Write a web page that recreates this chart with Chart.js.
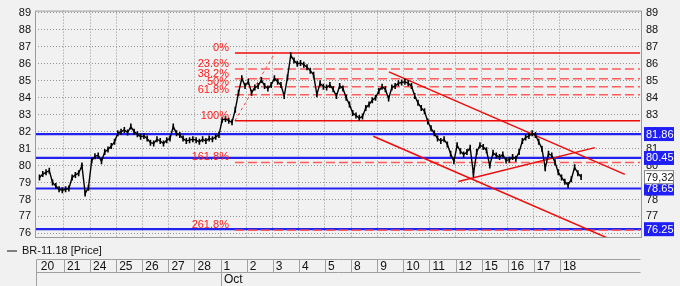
<!DOCTYPE html>
<html>
<head>
<meta charset="utf-8">
<script src="https://cdn.jsdelivr.net/npm/chart.js@4.4.1/dist/chart.umd.min.js"></script>
<style>
  html, body { margin: 0; padding: 0; background: #f1f1f1; }
  #wrap { width: 680px; height: 286px; }
</style>
</head>
<body>
<div id="wrap"><canvas id="c" width="680" height="286"></canvas></div>
<script>
(function () {
  'use strict';

  // trading days shown on the axis (Sep 20 .. Oct 18)
  var dayLabels = ['20', '21', '24', '25', '26', '27', '28', '1', '2', '3', '4', '5',
    '8', '9', '10', '11', '12', '15', '16', '17', '18'];
  var monthLabel = 'Oct';
  var monthStartDay = 7;
  var barsPerDay = 8;

  // intraday closes, 8 per day (last day incomplete)
  var prices = [
    79.3, 79.5, 79.6, 79.7, 79.0, 78.8, 78.6, 78.55,
    78.6, 78.65, 79.3, 79.45, 79.55, 80.0, 78.35, 78.7,
    80.3, 80.55, 80.6, 80.25, 80.8, 80.95, 81.15, 81.4,
    81.9, 82.0, 82.1, 81.95, 82.3, 82.0, 81.85, 81.7,
    81.75, 81.6, 81.35, 81.3, 81.55, 81.45, 81.3, 81.5,
    81.6, 82.3, 81.9, 81.8, 81.6, 81.45, 81.5, 81.55,
    81.5, 81.4, 81.55, 81.45, 81.6, 81.55, 81.7, 81.8,
    82.7, 82.75, 82.65, 82.55, 83.3, 84.3, 85.15, 84.7,
    84.95, 84.3, 84.6, 84.7, 85.05, 84.7, 84.55, 84.75,
    85.15, 84.95, 84.75, 84.1, 85.2, 86.5, 86.2, 86.0,
    86.05, 85.95, 85.8, 85.6, 85.35, 84.2, 84.85, 84.65,
    84.6, 84.75, 84.5, 84.1, 84.7, 84.55, 84.0, 83.6,
    83.1, 82.95, 82.8, 82.9, 83.4, 83.6, 83.85, 84.0,
    84.4, 84.65, 84.5, 83.95, 84.6, 84.7, 84.85, 84.9,
    84.95, 84.85, 84.7, 84.1, 83.7, 83.4, 83.2, 82.6,
    82.2, 81.9, 81.6, 81.45, 81.55, 81.25, 80.7, 80.25,
    81.2, 80.85, 80.65, 80.8, 81.05, 79.5, 80.8, 81.2,
    81.1, 80.9, 80.0, 80.75, 80.6, 80.5, 80.65, 80.3,
    80.35, 80.5, 80.4, 80.8, 81.45, 81.65, 81.75, 81.9,
    81.8, 81.4, 81.0, 79.85, 80.7, 80.6, 80.2, 79.6,
    79.3, 79.05, 78.85, 79.2, 79.9, 79.55, 79.32
  ];
  var lastPrice = 79.32;
  var seriesName = 'BR-11.18 [Price]';

  var yTicks = [76, 77, 78, 79, 80, 81, 82, 83, 84, 85, 86, 87, 88, 89];

  // fibonacci retracement drawn between the swing low and high
  var fibHigh = 86.64;
  var fibLow = 82.65;
  var fibRatios = [0, 0.236, 0.382, 0.5, 0.618, 1, 1.618, 2.618];
  var fibNames = ['0%', '23.6%', '38.2%', '50%', '61.8%', '100%', '161.8%', '261.8%'];
  var fibStartDay = 7.55;
  var fibEndDay = 23.07;
  var fibDiagEndDay = 9.08;

  // horizontal support / resistance levels
  var levels = [81.86, 80.45, 78.65, 76.25];

  // hand drawn trend lines, [day, price] endpoints
  var trendLines = [
    [[13.45, 85.53], [22.49, 79.48]],
    [[12.85, 81.73], [21.84, 75.72]],
    [[16.11, 79.06], [21.34, 81.06]]
  ];

  var xMin = -0.11, xMax = 23.145;
  var yMin = 75.73, yMax = 89.14;

  function fibLevel(r) { return fibHigh - r * (fibHigh - fibLow); }

  var priceData = prices.map(function (p, i) {
    var d = Math.floor(i / barsPerDay);
    var k = i % barsPerDay;
    return { x: d + (k + 0.5) / barsPerDay, y: p };
  });

  var datasets = [];
  datasets.push({
    data: priceData, borderColor: '#000', borderWidth: 1.4,
    pointStyle: 'line', pointRotation: 90, pointRadius: 3,
    pointBorderColor: '#000', pointBorderWidth: 1.6, order: 0
  });

  levels.forEach(function (lv) {
    datasets.push({
      data: [{ x: xMin, y: lv }, { x: xMax, y: lv }],
      borderColor: '#2222ee', borderWidth: 2.2, pointRadius: 0, order: 3
    });
  });

  fibRatios.forEach(function (r) {
    var solid = (r === 0 || r === 1);
    var lv = fibLevel(r);
    datasets.push({
      data: [{ x: fibStartDay, y: lv }, { x: fibEndDay, y: lv }],
      borderColor: solid ? '#f00a0a' : '#ff5c5c',
      borderWidth: 1.5, borderDash: solid ? [] : [9, 4],
      pointRadius: 0, order: 2
    });
  });
  datasets.push({
    data: [{ x: fibStartDay, y: fibLow }, { x: fibDiagEndDay, y: fibHigh }],
    borderColor: '#ff4444', borderWidth: 1, borderDash: [3, 3], pointRadius: 0, order: 2
  });

  trendLines.forEach(function (t) {
    datasets.push({
      data: [{ x: t[0][0], y: t[0][1] }, { x: t[1][0], y: t[1][1] }],
      borderColor: '#f00a0a', borderWidth: 1.5, pointRadius: 0, order: 1
    });
  });

  var FONT = '"Liberation Sans", Arial, sans-serif';

  function valueBox(ctx, px, py, text, bg, fg, border) {
    ctx.fillStyle = bg;
    ctx.fillRect(px, py - 7, 30, 14);
    if (border) {
      ctx.strokeStyle = border;
      ctx.lineWidth = 1;
      ctx.strokeRect(px + 0.5, py - 6.5, 29, 13);
    }
    ctx.fillStyle = fg;
    ctx.textAlign = 'left';
    ctx.textBaseline = 'middle';
    ctx.fillText(text, px + 2, py + 0.5);
  }

  var overlay = {
    id: 'overlay',
    afterDraw: function (chart) {
      var ctx = chart.ctx, a = chart.chartArea;
      var xs = chart.scales.x, ys = chart.scales.y;
      ctx.save();

      ctx.strokeStyle = '#9a9a9a';
      ctx.lineWidth = 1;
      ctx.strokeRect(a.left + 0.5, a.top + 0.5, a.right - a.left - 1, a.bottom - a.top - 1);

      // fib labels
      ctx.font = '11px ' + FONT;
      ctx.fillStyle = '#ff1a1a';
      ctx.textAlign = 'right';
      ctx.textBaseline = 'alphabetic';
      var lx = xs.getPixelForValue(fibStartDay) - 6;
      fibRatios.forEach(function (r, i) {
        ctx.fillText(fibNames[i], lx, ys.getPixelForValue(fibLevel(r)) - 2);
      });

      // right side value boxes
      var bx = a.right + 2;
      levels.forEach(function (lv) {
        valueBox(ctx, bx, ys.getPixelForValue(lv), lv.toFixed(2), '#1f1ff5', '#fff');
      });
      valueBox(ctx, bx, ys.getPixelForValue(lastPrice), lastPrice.toFixed(2).replace('.', ','), '#fff', '#111', '#888');

      // legend
      ctx.strokeStyle = '#808080';
      ctx.lineWidth = 2;
      ctx.beginPath();
      ctx.moveTo(7, 251);
      ctx.lineTo(17, 251);
      ctx.stroke();
      ctx.fillStyle = '#111';
      ctx.textAlign = 'left';
      ctx.textBaseline = 'middle';
      ctx.font = '11px ' + FONT;
      ctx.fillText(seriesName, 22, 251);

      // date strip frame
      var top = 259.5, mid = 272.5, bot = 286;
      var left = 36.5, right = a.right - 1.5;
      ctx.strokeStyle = '#a0a0a0';
      ctx.lineWidth = 1;
      ctx.beginPath();
      ctx.moveTo(left, top); ctx.lineTo(right, top);
      ctx.moveTo(left, mid); ctx.lineTo(right, mid);
      ctx.moveTo(left, top); ctx.lineTo(left, bot);
      for (var k = 1; k < dayLabels.length; k++) {
        var px = Math.round(xs.getPixelForValue(k)) + 0.5;
        ctx.moveTo(px, top);
        ctx.lineTo(px, k === monthStartDay ? bot : mid);
      }
      ctx.stroke();
      ctx.font = '12px ' + FONT;
      ctx.fillStyle = '#111';
      ctx.fillText(monthLabel, Math.round(xs.getPixelForValue(monthStartDay)) + 3, 279.5);

      ctx.restore();
    }
  };

  new Chart(document.getElementById('c'), {
    type: 'line',
    data: { datasets: datasets },
    options: {
      responsive: false,
      devicePixelRatio: 1,
      animation: false,
      events: [],
      layout: { padding: { top: 4 } },
      plugins: { legend: { display: false }, tooltip: { enabled: false } },
      scales: {
        x: {
          type: 'linear', min: xMin, max: xMax,
          afterBuildTicks: function (s) {
            s.ticks = dayLabels.map(function (_, i) { return { value: i }; });
          },
          afterFit: function (s) { s.height = 48; },
          grid: {
            drawTicks: false,
            color: function (c) { return c.index === 0 ? 'rgba(0,0,0,0)' : '#939393'; }
          },
          border: { display: false, dash: [1, 2] },
          ticks: {
            align: 'start', labelOffset: 3, padding: 21, autoSkip: false,
            maxRotation: 0, minRotation: 0, color: '#111',
            font: { size: 12, family: FONT },
            callback: function (v, i) { return dayLabels[i]; }
          }
        },
        y: {
          type: 'linear', position: 'left', min: yMin, max: yMax,
          afterBuildTicks: function (s) { s.ticks = yTicks.map(function (v) { return { value: v }; }); },
          afterFit: function (s) { s.width = 35; },
          grid: { drawTicks: false, color: '#939393' },
          border: { display: false, dash: [1, 2] },
          ticks: { padding: 4, color: '#111', font: { size: 11, family: FONT } }
        },
        y2: {
          type: 'linear', position: 'right', min: yMin, max: yMax,
          afterBuildTicks: function (s) { s.ticks = yTicks.map(function (v) { return { value: v }; }); },
          afterFit: function (s) { s.width = 38; },
          grid: { drawTicks: false, drawOnChartArea: false },
          border: { display: false },
          ticks: { padding: 4, color: '#111', font: { size: 11, family: FONT } }
        }
      }
    },
    plugins: [overlay]
  });
})();
</script>
</body>
</html>
